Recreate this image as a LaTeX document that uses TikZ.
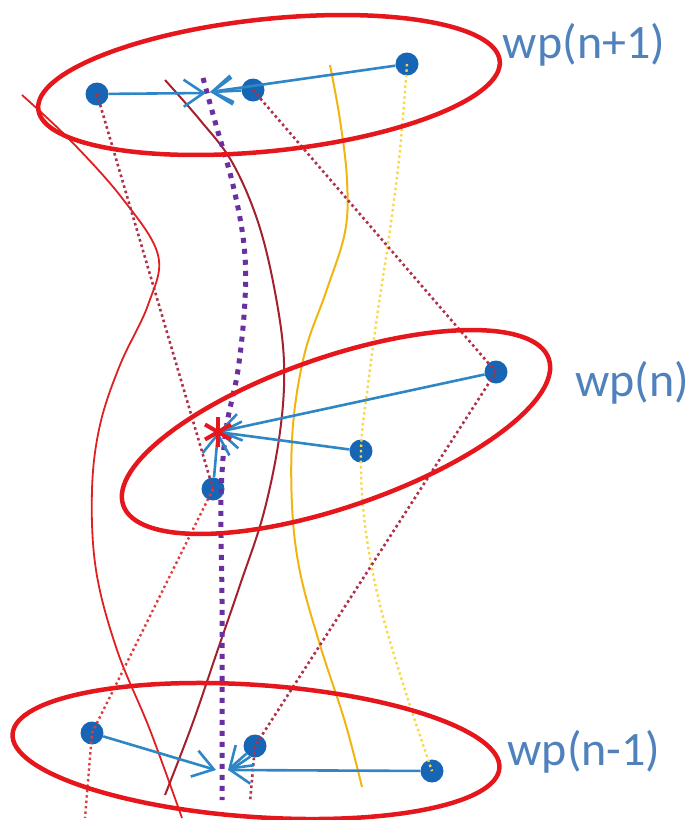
\documentclass[tikz,border=0pt]{standalone}
\usepackage{fontspec}
\setmainfont{Carlito}
\usetikzlibrary{arrows.meta}
\definecolor{ellred}{HTML}{E5161C}
\definecolor{thinred}{HTML}{E02020}
\definecolor{darkred}{HTML}{A3202C}
\definecolor{purp}{HTML}{6A2FA0}
\definecolor{gold}{HTML}{F2B411}
\definecolor{lightgold}{HTML}{F7D84A}
\definecolor{maroon}{HTML}{B03048}
\definecolor{dotred}{HTML}{E23A3A}
\definecolor{dotblue}{HTML}{1766B5}
\definecolor{arrblue}{HTML}{2F86C6}
\definecolor{lblblue}{HTML}{4F81BD}
\begin{document}
\begin{tikzpicture}[x=1pt,y=-1pt,
  ell/.style={draw=ellred,line width=4.5pt},
  dot/.style={circle,fill=dotblue,minimum size=23pt,inner sep=0pt},
  arr/.style={draw=arrblue,line width=2.6pt,-{Straight Barb[length=20pt,width=27pt,line width=2.6pt]}},
  lbl/.style={text=lblblue,font=\fontsize{48}{48}\selectfont,inner sep=0pt},
  maroondots/.style={draw=maroon,line width=2.6pt,dash pattern=on 2.6pt off 3pt},
  reddots/.style={draw=dotred,line width=2.4pt,dash pattern=on 2.4pt off 3pt},
  golddots/.style={draw=lightgold,line width=2.4pt,dash pattern=on 2.4pt off 3pt},
  purpledots/.style={draw=purp,line width=5pt,dash pattern=on 5pt off 6pt},
  starline/.style={draw=ellred,line width=4pt}]
\useasboundingbox (0,0) rectangle (691,820);

% dots
\node[dot] (T1) at (97,94) {};
\node[dot] (T2) at (253,90) {};
\node[dot] (T3) at (407,64) {};
\node[dot] (M1) at (213,489) {};
\node[dot] (M2) at (361,451) {};
\node[dot] (M3) at (496,372) {};
\node[dot] (B1) at (92,733) {};
\node[dot] (B2) at (255,746) {};
\node[dot] (B3) at (432,771) {};
\coordinate (tTa) at (206,93);
\coordinate (tTb) at (210,92);
\coordinate (S) at (218,432);
\coordinate (tBa) at (216,770);
\coordinate (tBb) at (228,770);
\coordinate (e1) at (85,818);
\coordinate (e2) at (250,802);

% curves
\draw[thinred,line width=1.8pt] plot[smooth,tension=0.6] coordinates {(22,95) (70,140) (122,198) (158,255) (148,305) (120,365) (100,425) (92,490) (96,570) (117,650) (150,730) (182,818)};
\draw[darkred,line width=2pt] plot[smooth,tension=0.6] coordinates {(165,80) (200,120) (232,162) (258,222) (275,292) (284,362) (280,432) (264,512) (240,585) (217,652) (192,725) (165,795)};
\draw[purpledots] plot[smooth,tension=0.6] coordinates {(203,78) (216,125) (233,185) (244,245) (245,300) (238,370) (226,430) (221,500) (222,600) (222,700) (222,800)};
\draw[gold,line width=2pt] plot[smooth,tension=0.6] coordinates {(330,65) (340,120) (347,180) (345,232) (326,292) (305,352) (293,425) (292,505) (300,572) (320,645) (345,722) (362,787)};
\draw[golddots] plot[smooth,tension=0.6] coordinates {(T3.center) (400,150) (390,230) (378,310) (368,385) (M2.center) (365,525) (380,605) (405,690) (B3.center)};

% dotted chains
\draw[maroondots] (T1.center) -- (M1.center);
\draw[reddots] (M1.center) -- (B1.center) -- (e1);
\draw[maroondots] (T2.center) -- (M3.center) -- (B2.center) -- (e2);

% ellipses
\draw[ell] (269,85) ellipse [x radius=232, y radius=66, rotate=6];
\draw[ell] (336,432) ellipse [x radius=225, y radius=75, rotate=19];
\draw[ell] (256,751) ellipse [x radius=244, y radius=66, rotate=-4];

% arrows
\draw[arr] (T1) -- (tTa);
\draw[arr] (T3) -- (tTb);
\draw[arr] (T2) -- (tTb);
\draw[arr] (M3) -- (S);
\draw[arr] (M2) -- (S);
\draw[arr] (M1) -- (S);
\draw[arr] (B1) -- (tBa);
\draw[arr] (B3) -- (tBb);
\draw[arr] (B2) -- (tBb);

% star
\foreach \a in {90,30,150} \draw[starline] (S) ++(\a:15) -- ++(\a+180:30);

% labels
\node[lbl] (L1) at (584,45) {wp(n+1)};
\node[lbl] (L2) at (632,383) {wp(n)};
\node[lbl] (L3) at (584,752) {wp(n-1)};
\end{tikzpicture}
\end{document}
